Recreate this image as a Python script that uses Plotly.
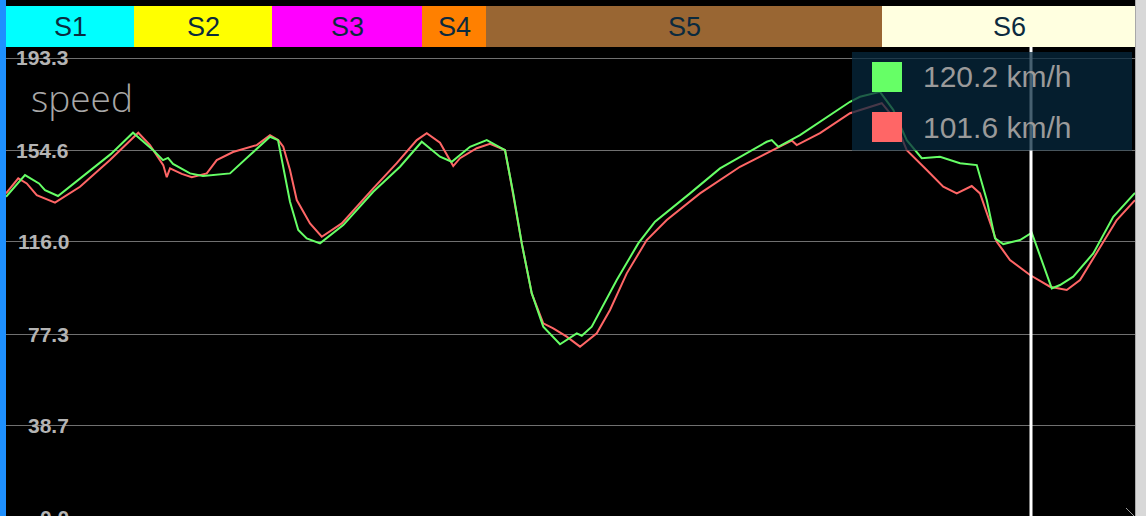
import plotly.graph_objects as go

# ---------------- data ----------------
# distance along the lap (m) and speed (km/h) of the current lap (green)
dist_cur = [0, 76, 132, 156, 208, 336, 420, 508, 588, 628, 648, 668, 736, 788, 896, 976,
            1056, 1088, 1136, 1169, 1203, 1256, 1349, 1469, 1576, 1663, 1736, 1783, 1856,
            1923, 1996, 2029, 2063, 2103, 2149, 2216, 2283, 2303, 2343, 2443, 2529, 2596,
            2696, 2736, 2856, 3043, 3063, 3089, 3176, 3256, 3376, 3416, 3496, 3549, 3603,
            3663, 3736, 3816, 3883, 3923, 3956, 3989, 4056, 4103, 4143, 4183, 4216, 4269,
            4349, 4429, 4516]
speed_cur = [135.0, 144.1, 140.6, 137.8, 135.3, 146.2, 153.0, 161.9, 154.6, 150.4, 151.3,
             148.8, 144.8, 143.7, 144.8, 152.5, 160.2, 158.8, 132.9, 121.0, 117.5, 115.4,
             123.1, 137.1, 147.6, 158.1, 151.8, 149.7, 156.0, 158.8, 154.6, 136.4, 115.4,
             94.4, 80.4, 73.0, 77.6, 76.6, 80.4, 100.0, 115.4, 124.5, 132.9, 136.4, 146.9,
             158.1, 158.8, 156.0, 160.9, 166.5, 174.9, 177.0, 179.1, 171.5, 158.8, 151.2,
             151.8, 149.1, 148.3, 133.6, 117.5, 115.1, 116.8, 119.9, 108.4, 96.5, 97.9,
             101.4, 111.2, 126.6, 136.6]

# reference lap (red)
dist_ref = [0, 49, 83, 123, 196, 296, 416, 529, 576, 629, 643, 656, 703, 743, 803, 843,
            908, 1003, 1056, 1089, 1109, 1136, 1163, 1216, 1263, 1343, 1469, 1563, 1643,
            1683, 1736, 1769, 1789, 1816, 1883, 1936, 1996, 2016, 2063, 2103, 2149, 2189,
            2243, 2296, 2363, 2416, 2483, 2563, 2643, 2776, 2936, 3083, 3143, 3163, 3256,
            3376, 3416, 3503, 3548, 3603, 3683, 3749, 3803, 3863, 3896, 3963, 4016, 4096,
            4176, 4243, 4296, 4376, 4443, 4516]
speed_ref = [136.4, 142.7, 140.6, 135.7, 132.5, 139.2, 150.4, 161.9, 156.7, 148.3, 143.2,
             146.9, 144.6, 143.2, 144.8, 150.4, 153.8, 156.7, 160.9, 158.8, 156.0, 146.2,
             133.6, 123.8, 118.2, 123.8, 138.5, 149.1, 158.8, 161.7, 157.7, 151.2, 147.9,
             151.2, 155.4, 157.2, 154.6, 143.4, 115.4, 94.4, 81.8, 79.7, 76.2, 72.0, 77.6,
             87.4, 102.8, 116.8, 125.2, 136.4, 147.6, 155.4, 158.6, 156.7, 161.7, 170.1,
             171.5, 174.3, 168.6, 154.6, 146.2, 139.2, 136.4, 139.5, 136.4, 116.1, 108.4,
             102.1, 97.2, 95.8, 100.0, 114.0, 125.2, 133.6]

sector_names = ["S1", "S2", "S3", "S4", "S5", "S6"]
sector_bounds = [0, 512, 1064, 1664, 1920, 3504, 4520]
sector_colors = ["#00ffff", "#ffff00", "#ff00ff", "#ff8000", "#996633", "#ffffe0"]

tick_vals = [0.0, 38.7, 77.3, 116.0, 154.6, 193.3]
tick_text = ["0.0", "38.7", "77.3", "116.0", "154.6", "193.3"]

cursor_dist = 4100
legend_labels = ["120.2 km/h", "101.6 km/h"]
line_colors = ["#66ff66", "#ff6666"]
channel_name = "speed"

# ---------------- layout constants ----------------
W, H = 1136, 516          # figure; the page's remaining 10 px on the right are grey
ML, MR, MT, MB = 6, 0, 6, 0
PW, PH = W - ML - MR, H - MT - MB
Y_RANGE = [0.84, 215.15]
X_RANGE = [0, 4520]


def px_x(px):
    return (px - ML) / PW


def px_y(py):
    return (H - MB - py) / PH


def val_y(v):
    return (v - Y_RANGE[0]) / (Y_RANGE[1] - Y_RANGE[0])


fig = go.Figure()
fig.add_trace(go.Scatter(x=dist_ref, y=speed_ref, mode="lines",
                         line=dict(color=line_colors[1], width=2), hoverinfo="skip"))
fig.add_trace(go.Scatter(x=dist_cur, y=speed_cur, mode="lines",
                         line=dict(color=line_colors[0], width=2), hoverinfo="skip"))

shapes = []
annotations = []
sector_bottom = px_y(47)

# sector bar
for i, name in enumerate(sector_names):
    shapes.append(dict(type="rect", xref="x", yref="paper",
                       x0=sector_bounds[i], x1=sector_bounds[i + 1],
                       y0=sector_bottom, y1=1, fillcolor=sector_colors[i],
                       line=dict(width=0), layer="above"))
    annotations.append(dict(xref="x", yref="paper",
                            x=(sector_bounds[i] + sector_bounds[i + 1]) / 2,
                            y=(sector_bottom + 1) / 2, text=name, showarrow=False,
                            xanchor="center", yanchor="middle",
                            font=dict(family="Liberation Sans, Arial", size=27,
                                      color="#0b2a3e")))

# cursor line
shapes.append(dict(type="line", xref="x", yref="paper", x0=cursor_dist, x1=cursor_dist,
                   y0=-0.01, y1=sector_bottom, line=dict(color="#ffffff", width=3),
                   layer="above"))

# legend box
shapes.append(dict(type="rect", xref="paper", yref="paper",
                   x0=px_x(852), x1=px_x(1132), y0=px_y(150.5), y1=px_y(52),
                   fillcolor="rgba(7,41,62,0.74)", line=dict(width=0), layer="above"))
for i, lab in enumerate(legend_labels):
    top = 62 + 50 * i
    shapes.append(dict(type="rect", xref="paper", yref="paper",
                       x0=px_x(872), x1=px_x(902), y0=px_y(top + 30), y1=px_y(top),
                       fillcolor=line_colors[i], line=dict(width=0), layer="above"))
    annotations.append(dict(xref="paper", yref="paper", x=px_x(921), y=px_y(top + 15),
                            text=lab, showarrow=False, xanchor="left", yanchor="middle",
                            font=dict(family="Liberation Sans, Arial", size=30,
                                      color="#9a9a9a")))

# left blue strip, right edge line, corner grip
shapes.append(dict(type="rect", xref="paper", yref="paper", x0=px_x(0), x1=px_x(6),
                   y0=px_y(H + 2), y1=px_y(-2), fillcolor="#1e90ff", line=dict(width=0),
                   layer="above"))
shapes.append(dict(type="line", xref="paper", yref="paper", x0=px_x(1135.5), x1=px_x(1135.5),
                   y0=px_y(H + 2), y1=px_y(-2), line=dict(color="#a8a8a8", width=1),
                   layer="above"))
shapes.append(dict(type="line", xref="paper", yref="paper", x0=px_x(1126), x1=px_x(1134),
                   y0=px_y(508), y1=px_y(516), line=dict(color="#9a9a9a", width=1),
                   layer="above"))

# y tick labels drawn inside the plot
for v, t in zip(tick_vals, tick_text):
    annotations.append(dict(xref="paper", yref="paper", x=px_x(71), y=val_y(v), text=t,
                            showarrow=False, xanchor="right", yanchor="middle",
                            font=dict(family="Liberation Sans, Arial", size=21,
                                      color="#b4b4b4", weight="bold")))

# channel name
annotations.append(dict(xref="paper", yref="paper", x=px_x(29), y=px_y(97),
                        text=channel_name, showarrow=False, xanchor="left",
                        yanchor="middle",
                        font=dict(family="Open Sans, Liberation Sans", size=37,
                                  color="#a8a8a8", weight=300)))

fig.update_layout(
    width=W, height=H,
    margin=dict(l=ML, r=MR, t=MT, b=MB, pad=0),
    paper_bgcolor="#000000", plot_bgcolor="#000000",
    showlegend=False, hovermode=False,
    xaxis=dict(range=X_RANGE, visible=False, fixedrange=True),
    yaxis=dict(range=Y_RANGE, tickvals=tick_vals, showticklabels=False,
               showgrid=True, gridcolor="#707070", gridwidth=1, zeroline=False,
               showline=False, ticks="", fixedrange=True),
    shapes=shapes, annotations=annotations,
)

fig.write_html("out.html", config={"displayModeBar": False},
               post_script="document.body.style.margin='0px';"
                           "document.body.style.overflow='hidden';"
                           "document.body.style.background='#d8d8d8';")
